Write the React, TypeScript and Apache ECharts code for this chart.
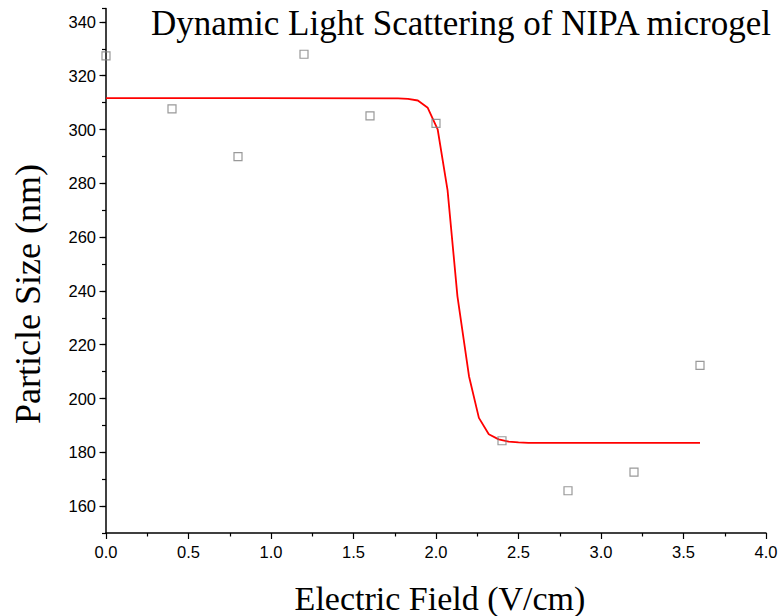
import React, { useEffect, useRef } from "react";
import * as echarts from "echarts";

const titleText = "Dynamic Light Scattering of NIPA microgel";
const xName = "Electric Field (V/cm)";
const yName = "Particle Size (nm)";

const fieldValues = [0, 0.4, 0.8, 1.2, 1.6, 2.0, 2.4, 2.8, 3.2, 3.6];
const sizeValues = [327.4, 307.7, 289.9, 328.0, 305.1, 302.3, 184.3, 165.7, 172.6, 212.3];

const fitX = [0, 1.77, 1.83, 1.89, 1.95, 2.01, 2.07, 2.13, 2.2, 2.26, 2.32, 2.38, 2.44, 2.5, 2.56, 3.6];
const fitY = [311.7, 311.6, 311.4, 310.8, 308.1, 300.1, 277.5, 238.0, 208.3, 192.8, 186.7, 184.8, 184.0, 183.7, 183.5, 183.5];

const majorYTicks = [160, 180, 200, 220, 240, 260, 280, 300, 320, 340];

export default function App() {
  const ref = useRef<HTMLDivElement>(null);
  useEffect(() => {
    if (!ref.current) return;
    const chart = echarts.init(ref.current, null, { renderer: "svg" });
    const labelFont = "'Liberation Sans', Arial, sans-serif";
    const serif = "'Liberation Serif', 'Times New Roman', serif";
    chart.setOption({
      animation: false,
      backgroundColor: "#ffffff",
      grid: { left: 106, right: 16, top: 8.5, bottom: 83, containLabel: false },
      xAxis: {
        type: "value",
        min: 0,
        max: 4,
        interval: 0.5,
        axisLine: { show: true, onZero: false, lineStyle: { color: "#000", width: 1.5 } },
        axisTick: { show: true, inside: false, length: 6, lineStyle: { color: "#000", width: 1.2 } },
        minorTick: { show: true, splitNumber: 2, length: 3.5, lineStyle: { color: "#000", width: 1.2 } },
        splitLine: { show: false },
        axisLabel: {
          color: "#000",
          fontFamily: labelFont,
          fontSize: 16.5,
          margin: 10,
          formatter: (v: number) => v.toFixed(1),
        },
      },
      yAxis: [
        {
          type: "value",
          min: 150,
          max: 345,
          interval: 10,
          axisLine: { show: true, onZero: false, lineStyle: { color: "#000", width: 1.5 } },
          axisTick: { show: true, inside: false, length: 4, lineStyle: { color: "#000", width: 1.2 } },
          splitLine: { show: false },
          axisLabel: {
            color: "#000",
            fontFamily: labelFont,
            fontSize: 16.5,
            margin: 10,
            showMinLabel: true,
            showMaxLabel: true,
            formatter: (v: number) => (v % 20 === 0 ? String(v) : ""),
          },
        },
        {
          type: "value",
          min: 150,
          max: 345,
          position: "left",
          axisLine: { show: false },
          axisLabel: { show: false },
          splitLine: { show: false },
          axisTick: {
            show: true,
            inside: false,
            length: 6.5,
            customValues: majorYTicks,
            lineStyle: { color: "#000", width: 1.2 },
          },
        },
      ],
      series: [
        {
          type: "line",
          data: fitX.map((x, i) => [x, fitY[i]]),
          showSymbol: false,
          symbol: "none",
          lineStyle: { color: "#ff0000", width: 1.8 },
          z: 2,
        },
        {
          type: "scatter",
          data: fieldValues.map((x, i) => [x, sizeValues[i]]),
          symbol: "rect",
          symbolSize: 8,
          itemStyle: { color: "rgba(255,255,255,0)", borderColor: "#808080", borderWidth: 1.2 },
          z: 3,
        },
      ],
      graphic: [
        {
          type: "text",
          x: 461,
          y: 23,
          style: { text: titleText, font: `35px ${serif}`, fill: "#000", align: "center", verticalAlign: "middle" },
        },
        {
          type: "text",
          x: 440,
          y: 598,
          style: { text: xName, font: `34px ${serif}`, fill: "#000", align: "center", verticalAlign: "middle" },
        },
        {
          type: "text",
          x: 28,
          y: 294,
          rotation: Math.PI / 2,
          style: { text: yName, font: `36px ${serif}`, fill: "#000", align: "center", verticalAlign: "middle" },
        },
      ],
    });
    return () => chart.dispose();
  }, []);
  return (
    <div
      ref={ref}
      style={{ position: "fixed", left: 0, top: 0, width: 782, height: 616 }}
    />
  );
}
